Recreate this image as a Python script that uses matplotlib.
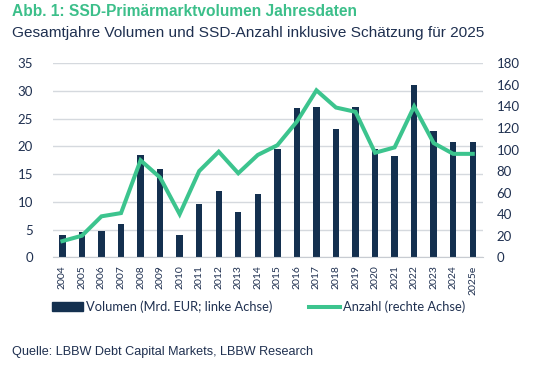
import matplotlib
matplotlib.use("Agg")
import matplotlib.pyplot as plt
from matplotlib.lines import Line2D
from matplotlib.patches import Patch

years = ["2004", "2005", "2006", "2007", "2008", "2009", "2010", "2011", "2012", "2013", "2014",
         "2015", "2016", "2017", "2018", "2019", "2020", "2021", "2022", "2023", "2024", "2025e"]
volumen = [4.0, 4.5, 4.75, 6.0, 18.5, 16.0, 4.0, 9.7, 12.0, 8.2, 11.5,
           19.6, 27.0, 27.1, 23.2, 27.1, 19.5, 18.3, 31.1, 22.8, 20.8, 20.8]
anzahl = [15, 20, 38, 41, 90, 74, 40, 80, 98, 78, 95,
          104, 126, 155, 139, 135, 97, 102, 140, 106, 96, 96]

navy = "#14304f"
green = "#3cc48e"
txt = "#1f3050"

fig = plt.figure(figsize=(5.54, 3.75), dpi=100)
ax = fig.add_axes([0.095, 0.314, 0.776, 0.517])
ax2 = ax.twinx()

x = list(range(len(years)))
ax.bar(x, volumen, width=0.33, color=navy, zorder=2)
ax2.plot(x, anzahl, color=green, lw=2.9, zorder=3, solid_joinstyle="miter")

ax.set_ylim(0, 35)
ax.set_yticks(range(0, 36, 5))
ax2.set_ylim(0, 180)
ax2.set_yticks(range(0, 181, 20))
ax.set_xlim(-0.5, len(years) - 0.5)
ax.set_xticks(x)
ax.set_xticklabels(years, rotation=90, fontsize=7.5, color=txt, family="Lato")
ax.yaxis.grid(True, color="#d5d9de", lw=1.0, zorder=0)
ax.set_axisbelow(True)

for a in (ax, ax2):
    for s in a.spines.values():
        s.set_visible(False)
    a.tick_params(length=0)
ax.spines["bottom"].set_visible(True)
ax.spines["bottom"].set_color("#c8ccd2")
for lab in ax.get_yticklabels() + ax2.get_yticklabels():
    lab.set_fontsize(9.5)
    lab.set_color(txt)
    lab.set_family("Lato")
ax.tick_params(axis="y", pad=14)
ax.tick_params(axis="x", pad=6)
ax2.tick_params(axis="y", pad=10)

fig.text(0.022, 0.968, "Abb. 1: SSD-Primärmarktvolumen Jahresdaten", fontsize=11.2,
         fontweight="bold", color="#3cbf8a", family="Liberation Sans", va="center")
fig.text(0.022, 0.912, "Gesamtjahre Volumen und SSD-Anzahl inklusive Schätzung für 2025", fontsize=11.1,
         color=txt, family="Liberation Sans", va="center")

handles = [Patch(facecolor=navy, edgecolor=navy), Line2D([0], [0], color=green, lw=2.9)]
fig.legend(handles, ["Volumen (Mrd. EUR; linke Achse)", "Anzahl (rechte Achse)"],
           loc="center left", bbox_to_anchor=(0.094, 0.181), ncol=2, frameon=False,
           prop={"family": "Lato", "size": 9.3}, handlelength=2.4, handleheight=0.7,
           handletextpad=0.2, columnspacing=2.9, labelcolor=txt, borderaxespad=0, borderpad=0)

fig.text(0.022, 0.061, "Quelle: LBBW Debt Capital Markets, LBBW Research", fontsize=9.1,
         color=txt, family="Liberation Sans", va="center")

fig.savefig("out.png", dpi=100)
